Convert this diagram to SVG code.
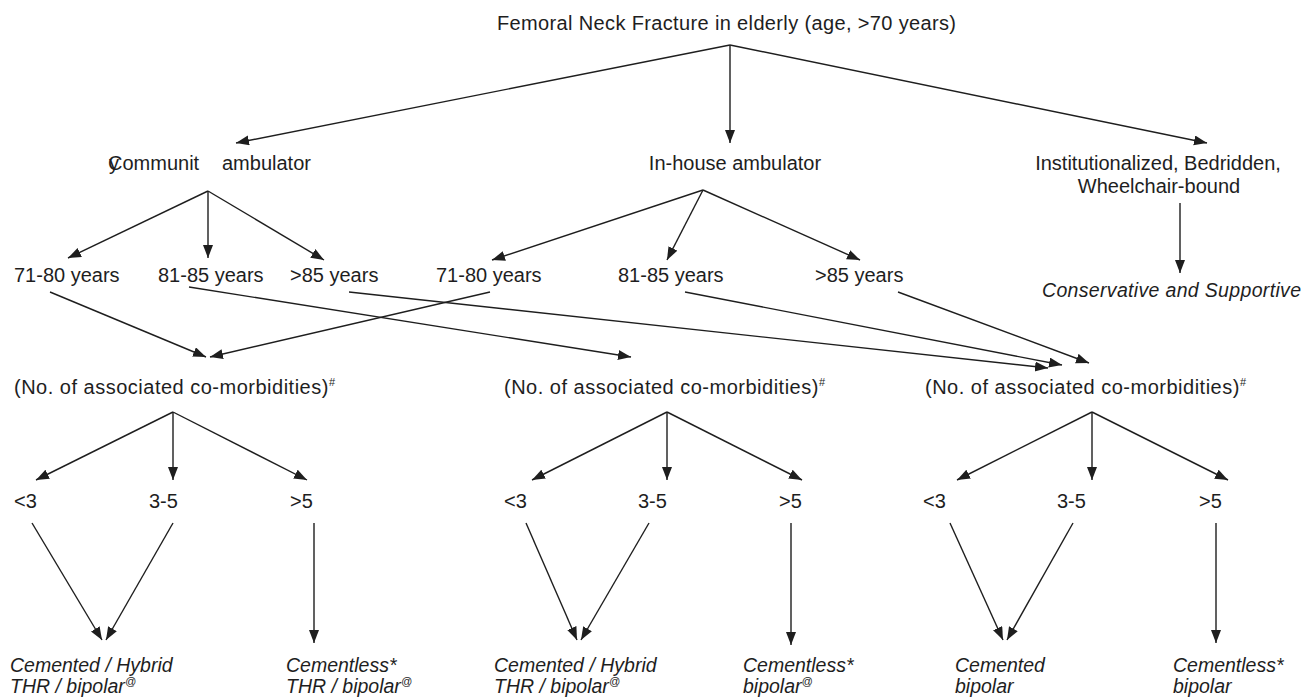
<svg xmlns="http://www.w3.org/2000/svg" width="1303" height="698" viewBox="0 0 1303 698">
<style>
text{font-family:"Liberation Sans",Arial,sans-serif;font-size:20px;fill:#1e1e1e}
.it{font-style:italic;font-size:19.5px}
.sup{font-size:11px}
.cm{letter-spacing:0.5px}
.c line{stroke:#1e1e1e;stroke-width:1.4;fill:none;marker-end:url(#ah)}
</style>
<defs>
<marker id="ah" markerUnits="userSpaceOnUse" markerWidth="14" markerHeight="11" refX="13" refY="5" orient="auto">
<path d="M0,0 L13,5 L0,10 z" fill="#1e1e1e"/>
</marker>
</defs>
<rect width="1303" height="698" fill="#fff"/>
<g id="root"><text x="497" y="30" textLength="459">Femoral Neck Fracture in elderly (age, &gt;70 years)</text></g>
<g id="community"><text x="108" y="170">Communit</text><text x="109" y="170">y</text><text x="222" y="170">ambulator</text></g>
<g id="inhouse"><text x="735" y="170" text-anchor="middle">In-house ambulator</text></g>
<g id="institutional"><text x="1158" y="170" text-anchor="middle">Institutionalized, Bedridden,</text><text x="1159" y="193" text-anchor="middle">Wheelchair-bound</text></g>
<g id="conservative"><text class="it" x="1042" y="297" textLength="259">Conservative and Supportive</text></g>
<g id="c-71-80"><text x="14" y="282">71-80 years</text></g>
<g id="c-81-85"><text x="158" y="282">81-85 years</text></g>
<g id="c-85"><text x="290" y="282">&gt;85 years</text></g>
<g id="h-71-80"><text x="436" y="282">71-80 years</text></g>
<g id="h-81-85"><text x="618" y="282">81-85 years</text></g>
<g id="h-85"><text x="815" y="282">&gt;85 years</text></g>
<g id="comorb1"><text class="cm" x="14" y="394">(No. of associated co-morbidities)<tspan class="sup" dy="-8">#</tspan></text></g>
<g id="comorb2"><text class="cm" x="504" y="394">(No. of associated co-morbidities)<tspan class="sup" dy="-8">#</tspan></text></g>
<g id="comorb3"><text class="cm" x="925" y="394">(No. of associated co-morbidities)<tspan class="sup" dy="-8">#</tspan></text></g>
<g id="a-lt3"><text x="14" y="508">&lt;3</text></g>
<g id="a-35"><text x="149" y="508">3-5</text></g>
<g id="a-gt5"><text x="290" y="508">&gt;5</text></g>
<g id="b-lt3"><text x="504" y="508">&lt;3</text></g>
<g id="b-35"><text x="638" y="508">3-5</text></g>
<g id="b-gt5"><text x="779" y="508">&gt;5</text></g>
<g id="d-lt3"><text x="923" y="508">&lt;3</text></g>
<g id="d-35"><text x="1057" y="508">3-5</text></g>
<g id="d-gt5"><text x="1199" y="508">&gt;5</text></g>
<g id="a-cemented"><text class="it" x="10" y="672">Cemented / Hybrid</text><text class="it" x="10" y="693">THR / bipolar<tspan class="sup" dy="-8">@</tspan></text></g>
<g id="a-cementless"><text class="it" x="286" y="672">Cementless*</text><text class="it" x="286" y="693">THR / bipolar<tspan class="sup" dy="-8">@</tspan></text></g>
<g id="b-cemented"><text class="it" x="494" y="672">Cemented / Hybrid</text><text class="it" x="494" y="693">THR / bipolar<tspan class="sup" dy="-8">@</tspan></text></g>
<g id="b-cementless"><text class="it" x="743" y="672">Cementless*</text><text class="it" x="743" y="693">bipolar<tspan class="sup" dy="-8">@</tspan></text></g>
<g id="d-cemented"><text class="it" x="955" y="672">Cemented</text><text class="it" x="955" y="693">bipolar</text></g>
<g id="d-cementless"><text class="it" x="1173" y="672">Cementless*</text><text class="it" x="1173" y="693">bipolar</text></g>
<g id="connectors" class="c">
<line x1="730" y1="45" x2="236" y2="143"/>
<line x1="730" y1="45" x2="730" y2="143"/>
<line x1="730" y1="45" x2="1207" y2="143"/>
<line x1="1180" y1="203" x2="1180" y2="273"/>
<line x1="208" y1="191" x2="68" y2="258"/>
<line x1="208" y1="191" x2="208" y2="258"/>
<line x1="208" y1="191" x2="324" y2="260"/>
<line x1="703" y1="190" x2="492" y2="260"/>
<line x1="703" y1="190" x2="667" y2="260"/>
<line x1="703" y1="190" x2="860" y2="260"/>
<line x1="50" y1="292" x2="206" y2="357"/>
<line x1="490" y1="292" x2="210" y2="357"/>
<line x1="189" y1="287" x2="631" y2="357"/>
<line x1="349" y1="292" x2="1048" y2="368"/>
<line x1="685" y1="292" x2="1062" y2="365"/>
<line x1="898" y1="292" x2="1089" y2="363"/>
<line x1="173" y1="412" x2="36" y2="480"/>
<line x1="173" y1="412" x2="173" y2="480"/>
<line x1="173" y1="412" x2="307" y2="480"/>
<line x1="667" y1="412" x2="532" y2="480"/>
<line x1="667" y1="412" x2="667" y2="480"/>
<line x1="667" y1="412" x2="802" y2="480"/>
<line x1="1092" y1="412" x2="957" y2="480"/>
<line x1="1092" y1="412" x2="1092" y2="480"/>
<line x1="1092" y1="412" x2="1228" y2="480"/>
<line x1="32" y1="523" x2="102" y2="640"/>
<line x1="173" y1="523" x2="106" y2="640"/>
<line x1="314" y1="523" x2="314" y2="643"/>
<line x1="526" y1="523" x2="577" y2="640"/>
<line x1="649" y1="523" x2="581" y2="640"/>
<line x1="791" y1="523" x2="791" y2="645"/>
<line x1="950" y1="523" x2="1003" y2="640"/>
<line x1="1073" y1="523" x2="1007" y2="640"/>
<line x1="1216" y1="523" x2="1216" y2="643"/>
</g>
</svg>
